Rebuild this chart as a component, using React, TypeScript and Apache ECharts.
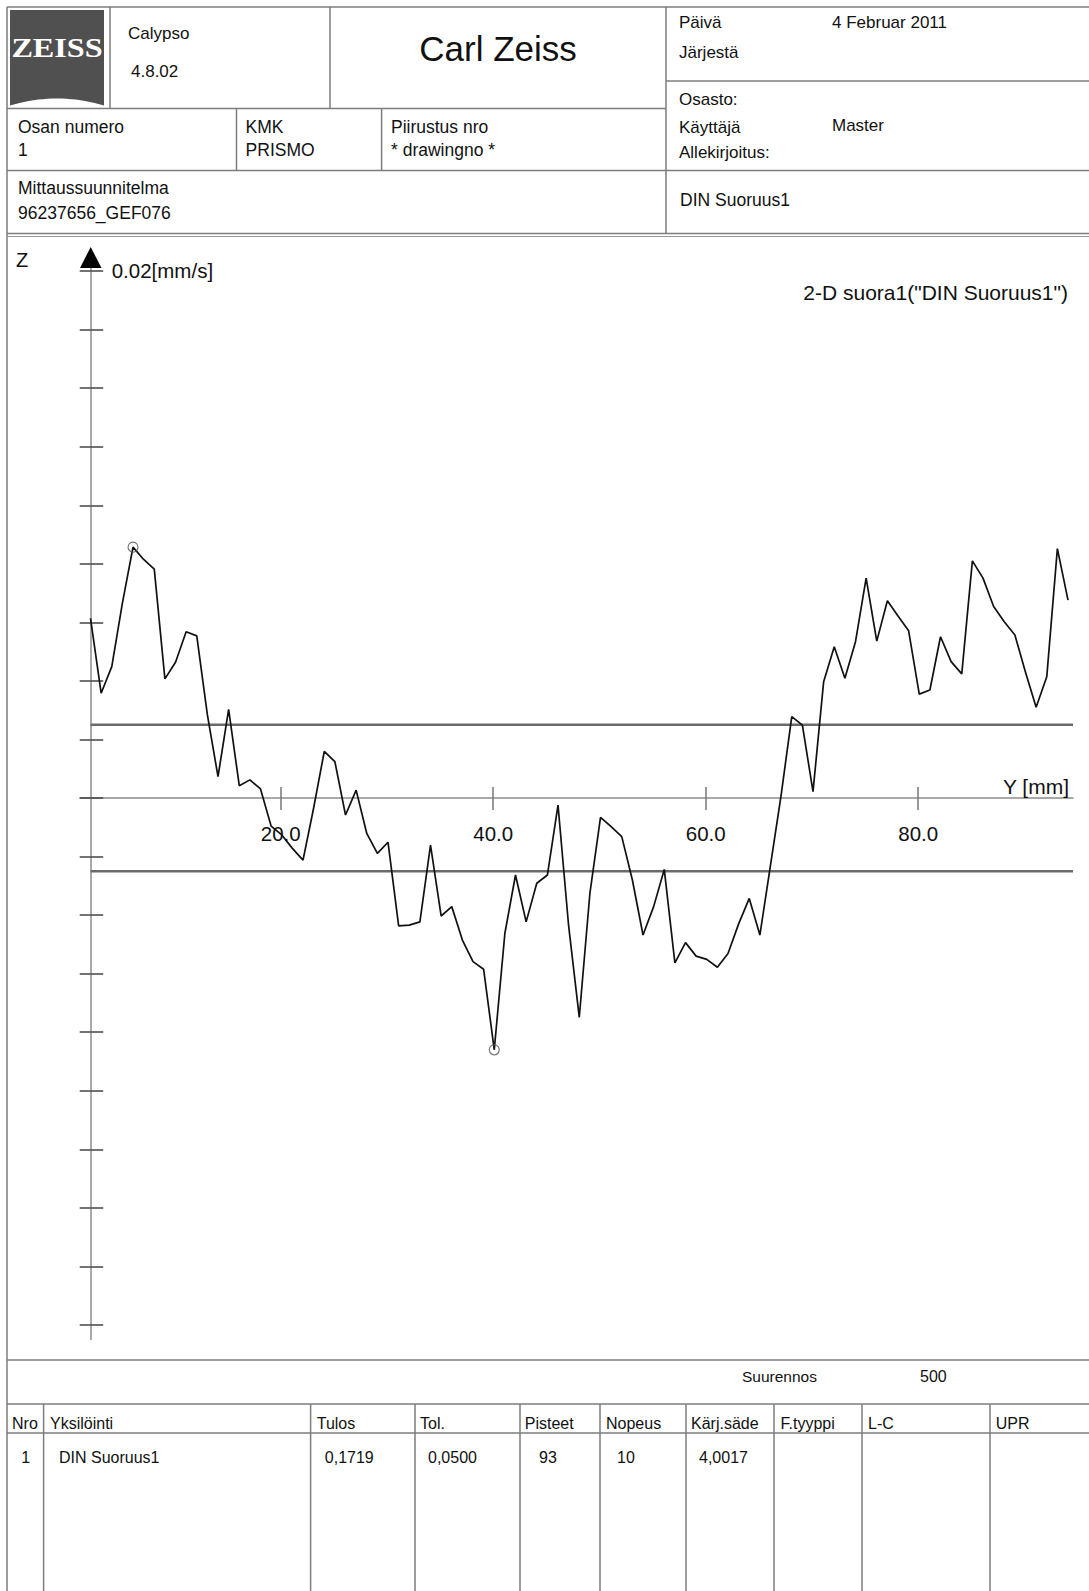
import React, { useEffect, useRef } from "react";
import * as echarts from "echarts";

const W = 1089;
const H = 1591;
const FONT = '"Liberation Sans", Arial, Helvetica, sans-serif';

// Measured profile: position along Y [mm] and deviation Z [mm]
const Y_POS = [
  2.1, 3.1, 4.1, 5.1, 6.1, 7.1, 8.1, 9.1, 10.1, 11.1, 12.1, 13.1, 14.1, 15.1, 16.1, 17.1, 18.1, 19.1, 20.1, 21.1,
  22.1, 23.1, 24.1, 25.1, 26.1, 27.1, 28.1, 29.1, 30.1, 31.1, 32.1, 33.1, 34.1, 35.1, 36.1, 37.1, 38.1, 39.1, 40.1, 41.1,
  42.1, 43.1, 44.1, 45.1, 46.1, 47.1, 48.1, 49.1, 50.1, 51.1, 52.1, 53.1, 54.1, 55.1, 56.1, 57.1, 58.1, 59.1, 60.1, 61.1,
  62.1, 63.1, 64.1, 65.1, 66.1, 67.1, 68.1, 69.1, 70.1, 71.1, 72.1, 73.1, 74.1, 75.1, 76.1, 77.1, 78.1, 79.1, 80.1, 81.1,
  82.1, 83.1, 84.1, 85.1, 86.1, 87.1, 88.1, 89.1, 90.1, 91.1, 92.1, 93.1, 94.1,
];
const Z_DEV = [
  0.0614, 0.0358, 0.0449, 0.0666, 0.0857, 0.0815, 0.0782, 0.0407, 0.0464, 0.0568,
  0.0554, 0.0284, 0.0073, 0.0303, 0.0042, 0.0062, 0.0031, -0.0096, -0.0126, -0.0172,
  -0.0212, -0.0034, 0.0159, 0.0124, -0.0058, 0.0027, -0.0121, -0.0189, -0.0151, -0.0437,
  -0.0434, -0.0423, -0.0161, -0.0403, -0.0371, -0.0485, -0.0559, -0.0585, -0.086, -0.0462,
  -0.0263, -0.0423, -0.0291, -0.0263, -0.0024, -0.0437, -0.0749, -0.0326, -0.0066, -0.0098,
  -0.0132, -0.028, -0.0468, -0.0371, -0.0244, -0.0563, -0.0494, -0.054, -0.0551, -0.0578,
  -0.0531, -0.043, -0.0343, -0.0468, -0.0229, 0.001, 0.0278, 0.0249, 0.0022, 0.0397,
  0.0517, 0.0409, 0.0534, 0.0751, 0.0536, 0.0674, 0.0622, 0.0571, 0.0355, 0.0369,
  0.0551, 0.0466, 0.0424, 0.081, 0.0751, 0.0654, 0.0602, 0.0557, 0.043, 0.031,
  0.0414, 0.0852, 0.0676,
];
const TOL_UPPER = 0.025;
const TOL_LOWER = -0.025;
const X_TICKS = [20, 40, 60, 80];
const Z_TICKS = [-0.18, -0.16, -0.14, -0.12, -0.1, -0.08, -0.06, -0.04, -0.02, 0, 0.02, 0.04, 0.06, 0.08, 0.1, 0.12, 0.14, 0.16, 0.18];
const X_MIN = 1.11;
const X_MAX = 94.57;
const Z_MIN = -0.185;
const Z_MAX = 0.183;

const TABLE_HEAD = ["Nro", "Yksilöinti", "Tulos", "Tol.", "Pisteet", "Nopeus", "Kärj.säde", "F.tyyppi", "L-C", "UPR"];
const TABLE_ROW = ["1", "DIN Suoruus1", "0,1719", "0,0500", "93", "10", "4,0017"];

const LINE_C = "#7d7d7d";
const TEXT_C = "#111";

// layout (pixels)
const PLOT_LEFT = 80;
const PLOT_RIGHT = 1073;
const PLOT_TOP = 262.3;
const PLOT_BOTTOM = 1339.6;
const ZERO_Y = 798;

function txt(x: number, y: number, text: string, size: number, align = "left", extra: any = {}) {
  return {
    type: "text",
    x,
    y,
    silent: true,
    z: 10,
    style: {
      text,
      fontSize: size,
      fontFamily: FONT,
      fill: TEXT_C,
      textAlign: align,
      textVerticalAlign: "middle",
      ...extra,
    },
  };
}

function ln(x1: number, y1: number, x2: number, y2: number, w = 1.5, c = LINE_C) {
  return {
    type: "line",
    silent: true,
    z: 5,
    shape: { x1, y1, x2, y2 },
    style: { stroke: c, lineWidth: w },
  };
}

function buildGraphic() {
  const g: any[] = [];
  // frame / form lines
  g.push(ln(7, 7, W, 7));
  g.push(ln(7, 7, 7, H));
  g.push(ln(110, 7, 110, 108.6));
  g.push(ln(330, 7, 330, 108.6));
  g.push(ln(666, 7, 666, 233.5));
  g.push(ln(666, 81, W, 81));
  g.push(ln(7, 108.6, 666, 108.6));
  g.push(ln(236.5, 108.6, 236.5, 170.5));
  g.push(ln(381.6, 108.6, 381.6, 170.5));
  g.push(ln(7, 170.5, W, 170.5));
  g.push(ln(7, 233.5, W, 233.5));
  g.push(ln(7, 236.5, W, 236.5, 1.2, "#999"));
  g.push(ln(7, 1360, W, 1360));
  g.push(ln(7, 1404, W, 1404));
  g.push(ln(7, 1433, W, 1433));
  [43.6, 310.6, 415, 520, 600, 686, 774, 862, 990].forEach((x) => g.push(ln(x, 1404, x, H)));

  // logo
  const pts: number[][] = [[10, 10], [104, 10], [104, 105.5]];
  for (let k = 1; k < 20; k++) {
    const t = k / 20;
    const px = (1 - t) * (1 - t) * 104 + 2 * (1 - t) * t * 57 + t * t * 10;
    const py = (1 - t) * (1 - t) * 105.5 + 2 * (1 - t) * t * 91.5 + t * t * 105.5;
    pts.push([px, py]);
  }
  pts.push([10, 105.5]);
  g.push({ type: "polygon", silent: true, z: 6, shape: { points: pts }, style: { fill: "#505050" } });
  g.push({
    type: "text",
    x: 57,
    y: 48,
    scaleX: 1.15,
    silent: true,
    z: 11,
    style: {
      text: "ZEISS",
      fontSize: 28,
      fontWeight: "bold",
      fontFamily: '"Liberation Serif", "DejaVu Serif", serif',
      fill: "#fff",
      textAlign: "center",
      textVerticalAlign: "middle",
    },
  });

  // header texts
  g.push(txt(128, 33.5, "Calypso", 17));
  g.push(txt(131, 71, "4.8.02", 17));
  g.push(txt(498, 48, "Carl Zeiss", 35, "center"));
  g.push(txt(679, 22.3, "Päivä", 17));
  g.push(txt(832, 22.3, "4 Februar 2011", 17));
  g.push(txt(679, 52.8, "Järjestä", 17));
  g.push(txt(679, 99.5, "Osasto:", 17));
  g.push(txt(679, 127, "Käyttäjä", 17));
  g.push(txt(832, 125, "Master", 17));
  g.push(txt(679, 152, "Allekirjoitus:", 17));
  g.push(txt(18, 127, "Osan numero", 17.5));
  g.push(txt(18, 150, "1", 17.5));
  g.push(txt(245.6, 127, "KMK", 17.5));
  g.push(txt(245.6, 150, "PRISMO", 17.5));
  g.push(txt(391, 127, "Piirustus nro", 17.5));
  g.push(txt(391, 150, "* drawingno *", 17.5));
  g.push(txt(18, 188, "Mittaussuunnitelma", 17.5));
  g.push(txt(18, 213, "96237656_GEF076", 17.5));
  g.push(txt(680, 200, "DIN Suoruus1", 17.5));

  // chart texts
  g.push(txt(16, 260, "Z", 20));
  g.push(txt(111.7, 270, "0.02[mm/s]", 20.5));
  g.push(txt(1068, 292, '2-D suora1("DIN Suoruus1")', 21, "right"));
  g.push(txt(1069, 786.6, "Y [mm]", 21, "right"));
  g.push({
    type: "polygon",
    silent: true,
    z: 12,
    shape: { points: [[90.7, 247], [80, 268], [101.5, 268]] },
    style: { fill: "#000" },
  });

  // footer
  g.push(txt(742, 1376, "Suurennos", 15.5));
  g.push(txt(920, 1376, "500", 16));
  const headX = [12, 50, 316.7, 420, 524.8, 606, 691, 780.5, 868, 995.7];
  TABLE_HEAD.forEach((t, i) => g.push(txt(headX[i], 1423, t, 16)));
  const rowX = [21.3, 59, 324.8, 428, 539, 617, 699];
  TABLE_ROW.forEach((t, i) => g.push(txt(rowX[i], 1457.5, t, 16)));
  return g;
}

function argExt(arr: number[], max: boolean) {
  let idx = 0;
  arr.forEach((v, i) => {
    if (max ? v > arr[idx] : v < arr[idx]) idx = i;
  });
  return idx;
}

export default function App() {
  const ref = useRef<HTMLDivElement>(null);
  useEffect(() => {
    document.body.style.margin = "0";
    document.body.style.background = "#fff";
    if (!ref.current) return;
    const chart = echarts.init(ref.current, null, { renderer: "svg" });
    const iMax = argExt(Z_DEV, true);
    const iMin = argExt(Z_DEV, false);
    const yCommon = {
      type: "value",
      gridIndex: 0,
      min: Z_MIN,
      max: Z_MAX,
      position: "left",
      offset: -10.7,
      splitLine: { show: false },
      axisLabel: { show: false },
    };
    const xAxisB = {
      type: "value",
      gridIndex: 1,
      min: X_MIN,
      max: X_MAX,
      position: "bottom",
      splitLine: { show: false },
    };
    chart.setOption({
      animation: false,
      backgroundColor: "#fff",
      grid: [
        { left: PLOT_LEFT, right: W - PLOT_RIGHT, top: PLOT_TOP, bottom: H - PLOT_BOTTOM },
        { left: PLOT_LEFT, right: W - PLOT_RIGHT, top: PLOT_TOP, bottom: H - ZERO_Y },
      ],
      xAxis: [
        {
          type: "value",
          gridIndex: 0,
          min: X_MIN,
          max: X_MAX,
          show: false,
          axisLine: { onZero: false },
          splitLine: { show: false },
        },
        {
          ...xAxisB,
          axisLine: { show: true, onZero: false, lineStyle: { color: "#8c8c8c", width: 1.5 } },
          axisTick: { show: true, inside: false, length: 12, customValues: X_TICKS, lineStyle: { color: "#777", width: 1.5 } },
          axisLabel: {
            show: true,
            customValues: X_TICKS,
            margin: 25,
            fontSize: 20.5,
            fontFamily: FONT,
            color: TEXT_C,
            formatter: (v: number) => v.toFixed(1),
          },
        },
        {
          ...xAxisB,
          axisLine: { show: false, onZero: false },
          axisTick: { show: true, inside: true, length: 11, customValues: X_TICKS, lineStyle: { color: "#777", width: 1.5 } },
          axisLabel: { show: false },
        },
      ],
      yAxis: [
        {
          ...yCommon,
          axisLine: { show: true, onZero: false, lineStyle: { color: "#8c8c8c", width: 1.5 } },
          axisTick: { show: true, inside: false, length: 11, customValues: Z_TICKS, lineStyle: { color: "#444", width: 1.5 } },
        },
        {
          ...yCommon,
          axisLine: { show: false, onZero: false },
          axisTick: { show: true, inside: true, length: 12.5, customValues: Z_TICKS, lineStyle: { color: "#444", width: 1.5 } },
        },
        {
          type: "value",
          gridIndex: 1,
          min: 0,
          max: 1,
          show: false,
          axisLine: { onZero: false },
          splitLine: { show: false },
        },
      ],
      series: [
        {
          type: "line",
          name: "tol+",
          xAxisIndex: 0,
          yAxisIndex: 0,
          symbol: "none",
          data: [[Y_POS[0], TOL_UPPER], [X_MAX, TOL_UPPER]],
          lineStyle: { color: "#6a6a6a", width: 2.5 },
          z: 3,
        },
        {
          type: "line",
          name: "tol-",
          xAxisIndex: 0,
          yAxisIndex: 0,
          symbol: "none",
          data: [[Y_POS[0], TOL_LOWER], [X_MAX, TOL_LOWER]],
          lineStyle: { color: "#6a6a6a", width: 2.5 },
          z: 3,
        },
        {
          type: "line",
          name: "profile",
          xAxisIndex: 0,
          yAxisIndex: 0,
          symbol: "none",
          data: Y_POS.map((x, i) => [x, Z_DEV[i]]),
          lineStyle: { color: "#111", width: 1.7 },
          z: 4,
        },
        {
          type: "scatter",
          name: "extremes",
          xAxisIndex: 0,
          yAxisIndex: 0,
          symbol: "circle",
          symbolSize: 10,
          data: [[Y_POS[iMax], Z_DEV[iMax]], [Y_POS[iMin], Z_DEV[iMin]]],
          itemStyle: { color: "rgba(0,0,0,0)", borderColor: "#555", borderWidth: 1.2 },
          z: 5,
        },
      ],
      graphic: buildGraphic(),
    });
    return () => chart.dispose();
  }, []);
  return <div ref={ref} style={{ width: W, height: H }} />;
}
